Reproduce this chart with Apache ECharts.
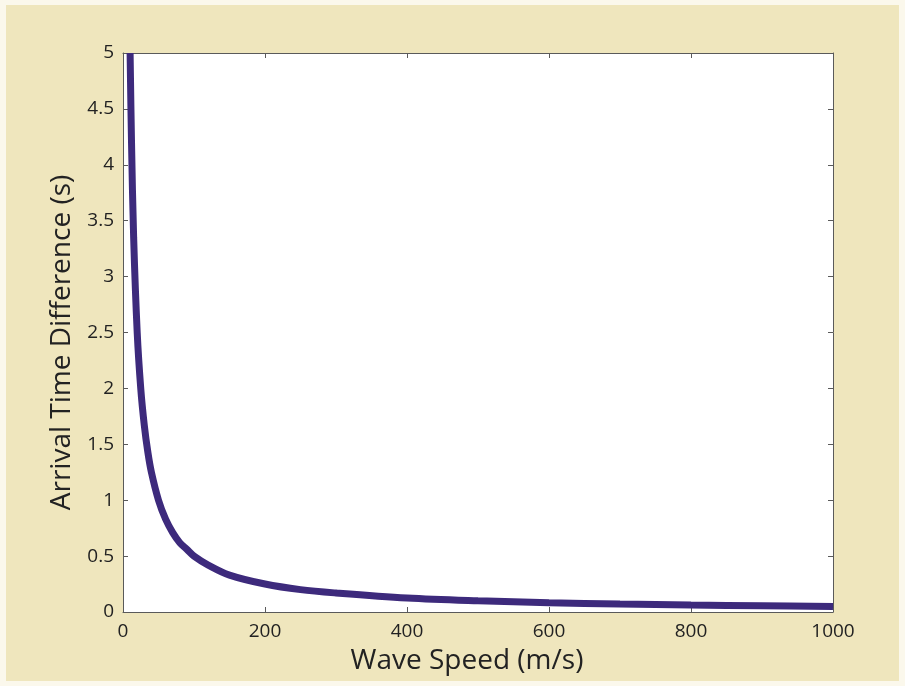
<!DOCTYPE html>
<html>
<head>
<meta charset="utf-8">
<script src="https://cdn.jsdelivr.net/npm/echarts@6/dist/echarts.min.js"></script>
<style>
  html, body { margin: 0; padding: 0; background: #fbf8ec; }
  #chart { position: absolute; left: 6px; top: 5px; width: 893px; height: 676px; background: #efe6bd; }
</style>
</head>
<body>
<div id="chart"></div>
<script>
// values
const waveSpeed = [10, 12, 15, 20, 25, 30, 35, 40, 50, 60, 70, 80, 90, 100, 120, 150, 200, 250, 300, 400, 500, 600, 700, 800, 900, 1000];
const arrivalDiff = [5, 4.2, 3.35, 2.5, 2.0, 1.67, 1.43, 1.25, 1.0, 0.83, 0.71, 0.62, 0.56, 0.5, 0.42, 0.33, 0.25, 0.2, 0.17, 0.125, 0.1, 0.083, 0.071, 0.062, 0.056, 0.05];
const xTicks = [0, 200, 400, 600, 800, 1000];
const yTicks = [0, 0.5, 1, 1.5, 2, 2.5, 3, 3.5, 4, 4.5, 5];

const chart = echarts.init(document.getElementById("chart"));
const font = "'Open Sans', 'Noto Sans', sans-serif";
const axisCol = "#5a5a5a";

const boxAxis = {
  axisLine: { show: true, onZero: false, lineStyle: { color: axisCol, width: 1 } },
  axisTick: { show: true, inside: true, length: 5, lineStyle: { color: axisCol } },
  splitLine: { show: false },
};

const option = {
  backgroundColor: "transparent",
  animation: false,
  grid: { left: 117, top: 48, width: 710, height: 559, backgroundColor: "#ffffff", show: true, borderWidth: 0 },
  xAxis: [
    {
      type: "value", min: 0, max: 1000, interval: 200,
      name: "Wave Speed (m/s)", nameLocation: "middle", nameGap: 35,
      nameTextStyle: { fontFamily: font, fontSize: 28, color: "#222", padding: [0, 22, 0, 0] },
      axisLabel: { fontFamily: font, fontSize: 19, color: "#222", margin: 10,
        formatter: v => xTicks.includes(v) ? String(v) : "" },
      ...boxAxis,
    },
    { type: "value", position: "top", min: 0, max: 1000, interval: 200, axisLabel: { show: false }, ...boxAxis },
  ],
  yAxis: [
    {
      type: "value", min: 0, max: 5, interval: 0.5,
      name: "Arrival Time Difference (s)", nameLocation: "middle", nameGap: 46,
      nameTextStyle: { fontFamily: font, fontSize: 28, color: "#222", padding: [0, 20, 0, 0] },
      axisLabel: { fontFamily: font, fontSize: 19, color: "#222", margin: 9,
        formatter: v => yTicks.includes(v) ? String(v) : "" },
      ...boxAxis,
    },
    { type: "value", position: "right", min: 0, max: 5, interval: 0.5, axisLabel: { show: false }, ...boxAxis },
  ],
  series: [
    {
      type: "line",
      data: waveSpeed.map((v, i) => [v, arrivalDiff[i]]),
      smooth: 0.35,
      showSymbol: false,
      clip: true,
      lineStyle: { color: "#3d2a7c", width: 7 },
    },
  ],
};
chart.setOption(option);
</script>
</body>
</html>
